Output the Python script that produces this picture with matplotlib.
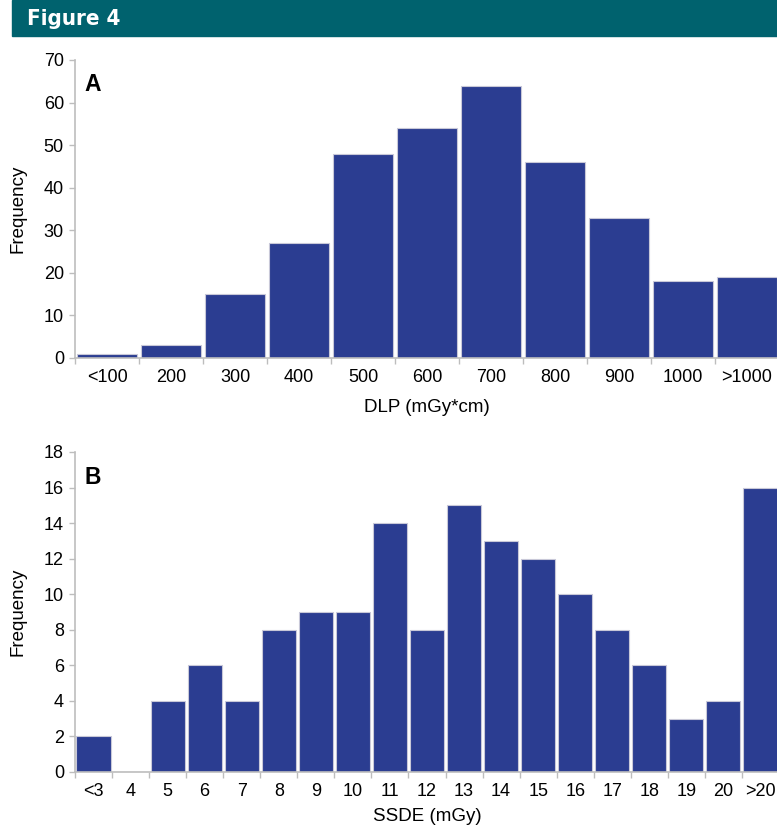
import matplotlib
matplotlib.use("Agg")
import matplotlib.pyplot as plt
from matplotlib.patches import Rectangle

plt.rcParams['font.family'] = ['Liberation Sans', 'DejaVu Sans']

# DLP distribution
dlp_labels = ["<100", "200", "300", "400", "500", "600", "700", "800", "900", "1000", ">1000"]
dlp_freq = [1, 3, 15, 27, 48, 54, 64, 46, 33, 18, 19]

# SSDE distribution
ssde_labels = ["<3", "4", "5", "6", "7", "8", "9", "10", "11", "12", "13", "14",
               "15", "16", "17", "18", "19", "20", ">20"]
ssde_freq = [2, 0, 4, 6, 4, 8, 9, 9, 14, 8, 15, 13, 12, 10, 8, 6, 3, 4, 16]

BAR = "#2B3D91"
AXC = "#BDBDBD"
TEAL = "#00626E"

W, H = 777, 827
fig = plt.figure(figsize=(W / 100, H / 100), dpi=100)

# header band
fig.patches.append(Rectangle((12 / W, 1 - 36 / H), 1 - 12 / W, 36 / H,
                             transform=fig.transFigure, color=TEAL, zorder=0))
fig.text(27 / W, 1 - 19 / H, "Figure 4", color="white", fontsize=16,
         fontweight="bold", fontstretch="condensed",
         family=["DejaVu Sans"], va="center", ha="left")


def panel(rect, labels, freq, ymax, ystep, width, xlabel, xpad, tag):
    ax = fig.add_axes(rect)
    n = len(labels)
    x = list(range(n))
    ax.bar(x, freq, width=width, color=BAR, edgecolor="#C8C8D8", linewidth=0.8,
           zorder=2)
    ax.set_xlim(-0.5, n - 0.5)
    ax.set_ylim(0, ymax)
    ax.set_yticks(range(0, ymax + 1, ystep))
    ax.set_xticks([i - 0.5 for i in range(n)])
    ax.set_xticklabels([])
    ax.set_xticks(x, minor=True)
    ax.set_xticklabels(labels, minor=True, fontsize=13)
    ax.tick_params(axis="x", which="minor", length=0, pad=8)
    ax.tick_params(axis="x", which="major", length=4, color=AXC, width=1)
    ax.tick_params(axis="y", length=4, color=AXC, width=1, labelsize=13, pad=4)
    for s in ("top", "right"):
        ax.spines[s].set_visible(False)
    for s in ("left", "bottom"):
        ax.spines[s].set_color(AXC)
        ax.spines[s].set_linewidth(1.2)
    ax.set_xlabel(xlabel, fontsize=13.5, labelpad=xpad)
    ax.set_ylabel("Frequency", fontsize=13.5)
    ax.yaxis.set_label_coords(-49 / 704, 0.5)
    ax.text(0.014, 0.955, tag, transform=ax.transAxes, fontsize=16.5,
            fontweight="bold", va="top", ha="left")
    return ax


axA = panel([75 / W, 1 - 358 / H, 704 / W, 298 / H], dlp_labels, dlp_freq,
            70, 10, 0.95, "DLP (mGy*cm)", 9, "A")
axB = panel([75 / W, 1 - 772 / H, 704 / W, 320 / H], ssde_labels, ssde_freq,
            18, 2, 0.92, "SSDE (mGy)", 6, "B")

fig.savefig("out.png", dpi=100)
